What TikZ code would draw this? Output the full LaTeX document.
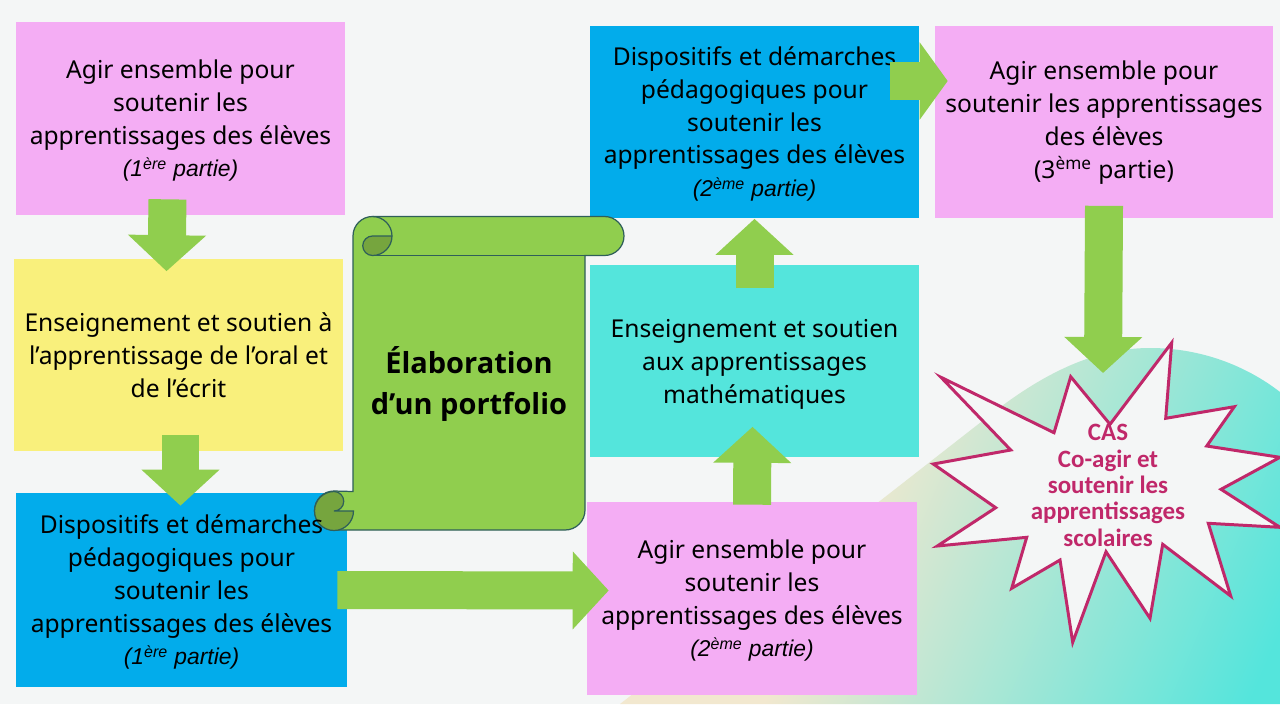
\documentclass[tikz,border=0pt]{standalone}
\usepackage{fontspec}
\usepackage{tikz}
\usetikzlibrary{arrows.meta}
\setmainfont{Noto Sans}
\newfontfamily\titlefont{Open Sans}
\newfontfamily\italfont{Liberation Sans}
\newfontfamily\casfont{Carlito}
\definecolor{bgcol}{HTML}{F4F6F6}
\definecolor{pinkcol}{HTML}{F4ADF4}
\definecolor{yellowcol}{HTML}{F9F07C}
\definecolor{bluecol}{HTML}{02ACEB}
\definecolor{tealcol}{HTML}{54E5DC}
\definecolor{greencol}{HTML}{90CE4E}
\definecolor{darkgreen}{HTML}{76A53E}
\definecolor{scrollline}{HTML}{2F5F5A}
\definecolor{cascol}{HTML}{C0286A}
\definecolor{beigecol}{HTML}{F2E8CF}
\pgfdeclareverticalshading{hillshade}{100bp}{color(0bp)=(beigecol); color(37.5bp)=(beigecol); color(62.5bp)=(tealcol); color(100bp)=(tealcol)}
\newcommand{\partie}[1]{{\italfont\itshape\fontsize{13}{18.7}\selectfont (#1 partie)}}
\newcommand{\firstline}{\rule{0pt}{14.4pt}}

\begin{document}
\begin{tikzpicture}[x=0.02cm,y=-0.02cm,
  boxtext/.style={
    align=center,
    inner sep=0pt,
    font=\fontsize{14}{18.7}\selectfont,
    execute at end node={\rule[-4pt]{0pt}{0pt}}
  },
  box/.style={
    boxtext,
    rectangle,
    minimum width=6.58cm,
    minimum height=3.86cm
  },
  blockarrow/.style={
    draw=greencol,
    line width=.76cm,
    -{Triangle[length=.72cm,width=1.52cm,fill=greencol]}
  },
  scroll/.style={
    draw=scrollline,
    line width=.7pt
  }
  ]

  \fill [bgcol] (0,0) rectangle (1280,704);
  \useasboundingbox (0,0) rectangle (1280,704);

  % gradient hill behind the star
  \begin{scope}
    \clip (620,704) -- (990,415) .. controls (1050,368) and (1100,348) .. (1150,348)
      .. controls (1200,348) and (1245,365) .. (1280,392) -- (1280,704) -- cycle;
    \shade [shading=hillshade, shading angle=-113] (600,150) rectangle (1500,1050);
  \end{scope}

  \node [box, fill=pinkcol] (agirA) at (180.5,118.5) {\firstline Agir ensemble pour\\soutenir les\\apprentissages des élèves\\\partie{1\textsuperscript{ère}}};
  \node [box, fill=yellowcol] (oral) at (178.5,355) {\firstline Enseignement et soutien à\\l’apprentissage de l’oral et\\de l’écrit};
  \node [fill=bluecol, minimum width=6.62cm, minimum height=3.88cm] (dispA) at (181.5,590) {};
  \node [box, fill=pinkcol, minimum width=6.6cm] (agirB) at (752,598.5) {\firstline Agir ensemble pour\\soutenir les\\apprentissages des élèves\\\partie{2\textsuperscript{ème}}};
  \node [box, fill=tealcol] (maths) at (754.5,361) {\firstline Enseignement et soutien\\aux apprentissages\\mathématiques};
  \node [box, fill=bluecol] (dispB) at (754.5,122) {\firstline Dispositifs et démarches\\pédagogiques pour\\soutenir les\\apprentissages des élèves\\\partie{2\textsuperscript{ème}}};
  \node [box, fill=pinkcol, minimum width=6.76cm, execute at end node={\rule[-6.4pt]{0pt}{0pt}}] (agirC) at (1104,122) {\firstline Agir ensemble pour\\soutenir les apprentissages\\des élèves\\(3\textsuperscript{ème} partie)};

  % scroll
  \draw [scroll, fill=greencol] (353,236) arc[start angle=180,end angle=90,radius=.39cm]
    -- (604.5,216.5) arc[start angle=90,end angle=-90,radius=.39cm]
    -- (585,255.5) -- (585,510) arc[start angle=0,end angle=-90,radius=.4cm]
    -- (334,530) arc[start angle=-90,end angle=-270,radius=.39cm]
    -- (353,491.5) -- cycle;
  \draw [scroll] (604.5,255.5) -- (372.5,255.5);
  \draw [scroll, fill=darkgreen] (392,236) -- (372.5,236) arc[start angle=90,end angle=270,radius=.195cm]
    arc[start angle=-90,end angle=0,radius=.39cm];
  \draw [scroll] (372.5,216.5) arc[start angle=90,end angle=0,radius=.39cm];
  \draw [scroll, fill=darkgreen] (334,491.5) arc[start angle=90,end angle=360,radius=.39cm]
    -- (334,511) arc[start angle=-90,end angle=90,radius=.195cm];
  \node [align=center, inner sep=0pt, font=\titlefont\bfseries\fontsize{16.5}{22.8}\selectfont] (portfolio) at (469,384) {Élaboration\\d’un portfolio};

  % arrows
  \coordinate (castip) at (1103,373);
  \draw [blockarrow] ([shift={(-13,-16)}]agirA.south) -- ([shift={(-12,13)}]oral.north);
  \draw [blockarrow] ([shift={(2,-17)}]oral.south) -- ([shift={(-1,13)}]dispA.north);
  \draw [blockarrow] ([shift={(-10,0)}]dispA.east) -- ([shift={(22,-8)}]agirB.west);
  \draw [blockarrow] ([shift={(0,3)}]agirB.north) -- ([shift={(-2,-31)}]maths.south);
  \draw [blockarrow] ([shift={(0,24)}]maths.north) -- (dispB.south);
  \draw [blockarrow, -{Triangle[length=.56cm,width=1.52cm,fill=greencol]}] ([shift={(-29,-41)}]dispB.east) -- ([shift={(13,-41)}]agirC.west);
  \draw [blockarrow] ([yshift=.26cm]agirC.south) -- (castip);

  \node [boxtext] (dispAtext) at (dispA) {\firstline Dispositifs et démarches\\pédagogiques pour\\soutenir les\\apprentissages des élèves\\\partie{1\textsuperscript{ère}}};

  % star
  \draw [cascol, line width=1.7pt, fill=bgcol, line join=miter]
    (1171.7,342.7) -- (1165.7,418.3) -- (1234.3,406.7) -- (1206.7,446) -- (1280,457.3)
    -- (1221,489.3) -- (1280,527.3) -- (1208.3,523.3) -- (1230.7,596) -- (1162.7,544.3)
    -- (1150,618.3) -- (1106,551.7) -- (1072.7,642.3) -- (1060,560) -- (1011.7,588.3)
    -- (1026.7,537.3) -- (937.3,546) -- (995.7,507.7) -- (933.3,464) -- (1010.7,450)
    -- (941,377.3) -- (1054,432.7) -- (1070.7,376.7) -- (1110,424.3) -- cycle;
  \node [align=center, inner sep=0pt, text=cascol, font=\casfont\bfseries\fontsize{14.2}{15}\selectfont] (cas) at (1108,485.5) {CAS\\Co-agir et\\soutenir les\\apprentissages\\scolaires};

\end{tikzpicture}
\end{document}
